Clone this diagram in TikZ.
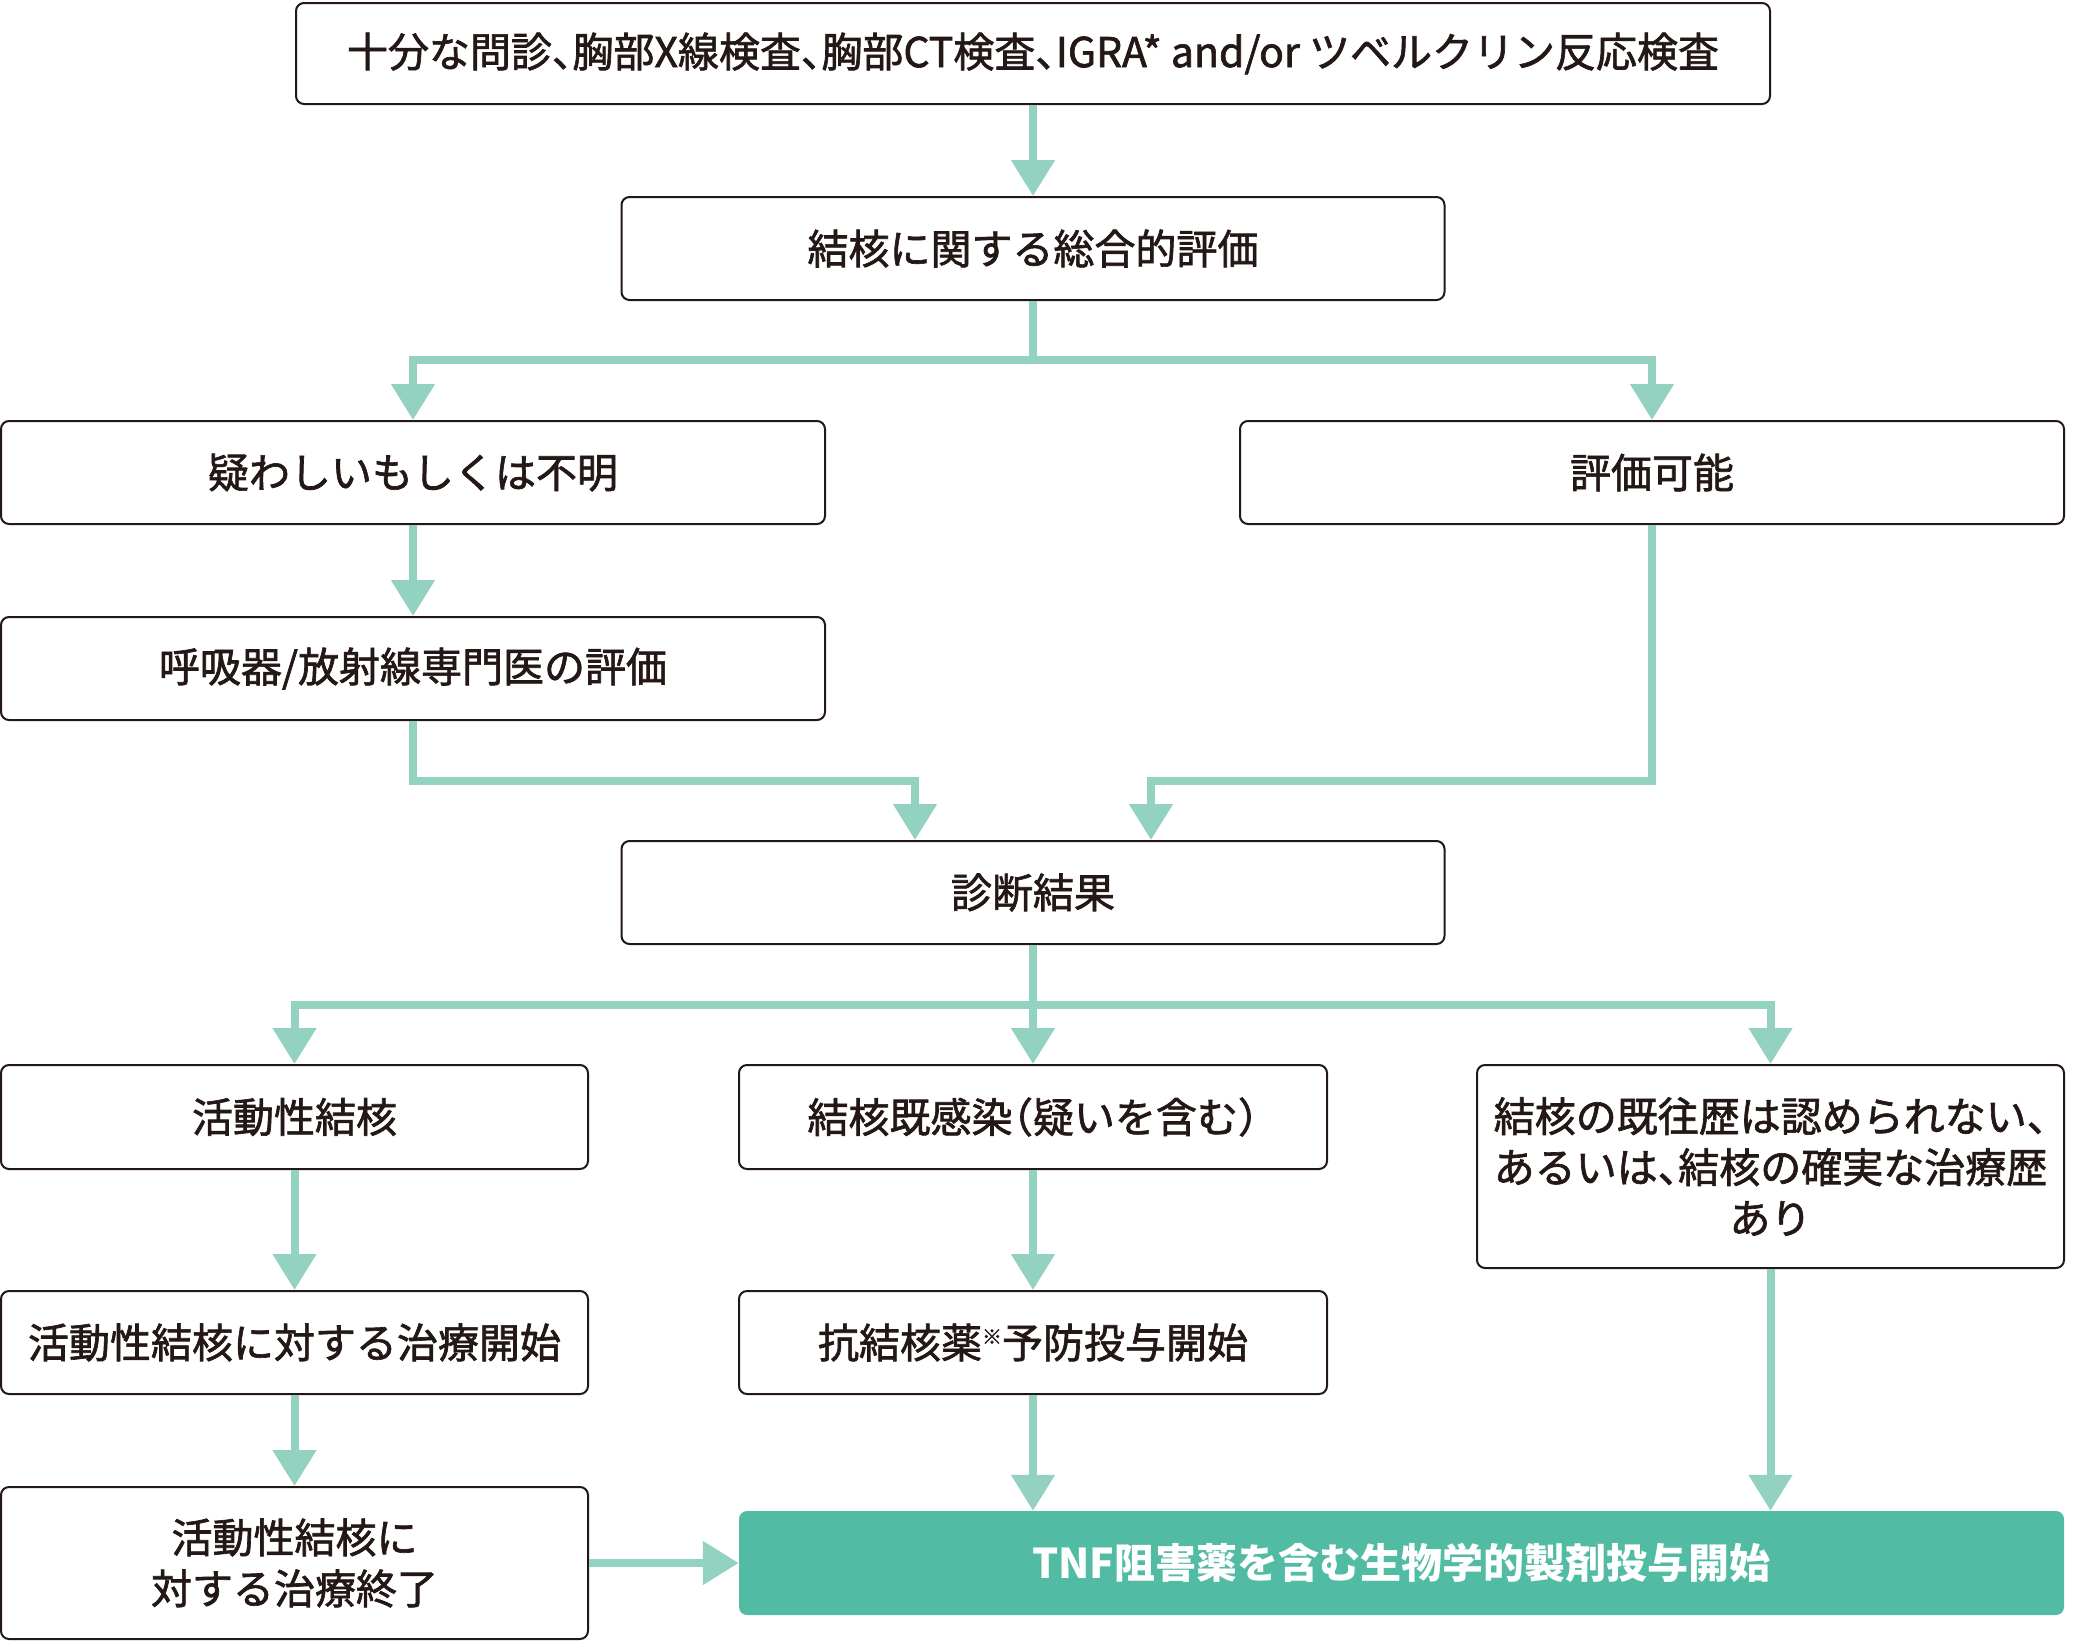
\documentclass[tikz,border=0pt]{standalone}
\usepackage{fontspec}
\setmainfont{Noto Sans CJK JP}[RawFeature=+halt]
\newfontfamily\medjp[FakeBold=1.6,RawFeature=+halt]{Noto Sans CJK JP}
\usetikzlibrary{arrows.meta}
\definecolor{lineteal}{HTML}{93D1C0}
\definecolor{boxteal}{HTML}{52BBA3}
\definecolor{inkdark}{HTML}{231815}
\tikzset{
  box/.style={draw=inkdark, line width=2pt, rounded corners=8pt, fill=white,
    align=center, inner sep=0pt, text=inkdark,
    font=\medjp\fontsize{41}{51}\selectfont},
  greenbox/.style={fill=boxteal, rounded corners=8pt, inner sep=0pt,
    text=white, font=\bfseries\fontsize{41}{51}\selectfont},
  conn/.style={draw=lineteal, line width=8pt,
    -{Triangle[width=42pt,length=36pt]}},
  plain/.style={draw=lineteal, line width=8pt}
}
\begin{document}
\begin{tikzpicture}[x=1pt,y=-1pt]
\useasboundingbox (0,0) rectangle (2091,1641);
% nodes
\node[box, minimum width=1474pt, minimum height=101pt] (n1) at (1033,53.5)
  {十分な問診、胸部X線検査、胸部CT検査、IGRA* and/or ツベルクリン反応検査};
\node[box, minimum width=823pt, minimum height=103pt] (n2) at (1033,248.5)
  {結核に関する総合的評価};
\node[box, minimum width=824pt, minimum height=103pt] (n3) at (413,472.5)
  {疑わしいもしくは不明};
\node[box, minimum width=824pt, minimum height=103pt] (n4) at (1652,472.5)
  {評価可能};
\node[box, minimum width=824pt, minimum height=103pt] (n5) at (413,668.5)
  {呼吸器/放射線専門医の評価};
\node[box, minimum width=823pt, minimum height=103pt] (n6) at (1033,892.5)
  {診断結果};
\node[box, minimum width=587pt, minimum height=104pt] (n7) at (294.5,1117)
  {活動性結核};
\node[box, minimum width=588pt, minimum height=104pt] (n8) at (1033,1117)
  {結核既感染（疑いを含む）};
\node[box, minimum width=587pt, minimum height=203pt] (n9) at (1770.5,1166.5)
  {結核の既往歴は認められない、\\あるいは、結核の確実な治療歴\\あり};
\node[box, minimum width=587pt, minimum height=103pt] (n10) at (294.5,1342.5)
  {活動性結核に対する治療開始};
\node[box, minimum width=588pt, minimum height=103pt] (n11) at (1033,1342.5)
  {抗結核薬{\fontsize{20}{20}\selectfont\raisebox{14pt}{※}}予防投与開始};
\node[box, minimum width=587pt, minimum height=152pt] (n12) at (294.5,1563)
  {活動性結核に\\対する治療終了};
\node[greenbox, minimum width=1325pt, minimum height=104pt] (n13) at (1401.5,1563)
  {TNF阻害薬を含む生物学的製剤投与開始};
% junctions
\coordinate (j1) at (1033,360);
\coordinate (j2) at (1033,1005);
% connectors
\draw[conn] (n1) -- (n2);
\draw[plain] (n2.south) -- (j1);
\draw[conn] (j1) -| (n3.north);
\draw[conn] (j1) -| (n4.north);
\draw[conn] (n3) -- (n5);
\draw[conn] (n5.south) -- ++(0,60) -| ([xshift=-118pt]n6.north);
\draw[conn] (n4.south) -- ++(0,256) -| ([xshift=118pt]n6.north);
\draw[conn] (n6) -- (n8);
\draw[conn] (j2) -| (n7.north);
\draw[conn] (j2) -| (n9.north);
\draw[conn] (n7) -- (n10);
\draw[conn] (n10) -- (n12);
\draw[conn] (n8) -- (n11);
\draw[conn] (n11.south) -- (n11.south |- n13.north);
\draw[conn] (n9.south) -- (n9.south |- n13.north);
\draw[conn] (n12) -- (n13);
\end{tikzpicture}
\end{document}
